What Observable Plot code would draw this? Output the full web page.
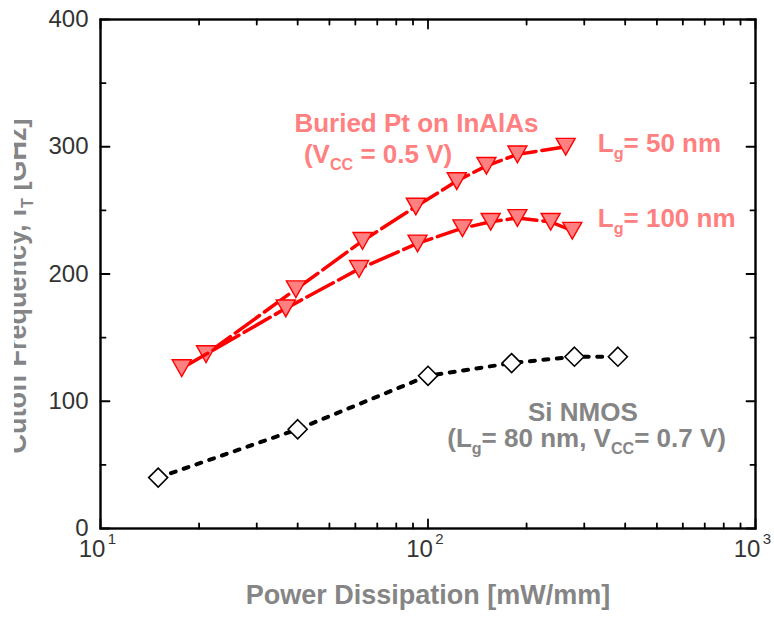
<!DOCTYPE html>
<html>
<head>
<meta charset="utf-8">
<script src="https://cdn.jsdelivr.net/npm/d3@7"></script>
<script src="https://cdn.jsdelivr.net/npm/@observablehq/plot@0.6"></script>
<style>
  html, body { margin: 0; padding: 0; background: #fff; }
  #chart { width: 774px; height: 624px; }
</style>
</head>
<body>
<div id="chart"></div>
<script>
// Cutoff frequency versus power dissipation: buried-Pt InAlAs HEMTs against Si NMOS.

// Buried Pt on InAlAs, Lg = 50 nm
const power50 = [21.0, 39.5, 63.1, 91.8, 122.4, 150.8, 187.5, 263.3];
const fT50    = [137, 188, 226, 253, 273, 285, 294, 300];

// Buried Pt on InAlAs, Lg = 100 nm
const power100 = [17.7, 36.8, 61.6, 92.9, 127.4, 155.4, 187.5, 236.9, 275.8];
const fT100    = [126, 173, 204, 224, 236, 241, 244, 241, 234];

// Si NMOS, Lg = 80 nm, Vcc = 0.7 V
const powerSi = [15, 40, 100, 180, 280, 380];
const fTSi    = [40, 78, 120, 130, 135, 135];

// Axis ticks and labels
const xMajor = [10, 100, 1000];
const xMinor = [20, 30, 40, 50, 60, 70, 80, 90, 200, 300, 400, 500, 600, 700, 800, 900];
const xTickBase = "10";
const xTickExp = ["1", "2", "3"];
const yMajor = [0, 100, 200, 300, 400];
const yMinor = [50, 150, 250, 350];
const yTickLabels = ["0", "100", "200", "300", "400"];

const xTitle = "Power Dissipation [mW/mm]";
const yTitle = "Cutoff Frequency, f_{T} [GHz]";

const zip = (xs, ys) => xs.map((x, i) => ({x, y: ys[i]}));
const s50 = zip(power50, fT50);
const s100 = zip(power100, fT100);
const sSi = zip(powerSi, fTSi);

const RED = "#ff0000";
const PINK = "#ff8080";
const GRAY = "#858585";
const INK = "#333333";

// Downward triangle centred on its bounding box
const triDown = {
  draw(ctx, size) {
    const r = Math.sqrt(size / Math.PI);
    const h = r * 0.88;
    ctx.moveTo(-r, -h);
    ctx.lineTo(r, -h);
    ctx.lineTo(0, h);
    ctx.closePath();
  }
};
// Square diamond (rotated square)
const diamond = {
  draw(ctx, size) {
    const r = Math.sqrt(size / Math.PI);
    ctx.moveTo(0, -r);
    ctx.lineTo(r, 0);
    ctx.lineTo(0, r);
    ctx.lineTo(-r, 0);
    ctx.closePath();
  }
};
// Straight tick drawn from the anchor along the vector direction
const tickShape = {
  draw(ctx, l) { ctx.moveTo(0, 0); ctx.lineTo(0, -l); }
};

// Inward ticks on all four sides of the frame
function ticks(values, side, len) {
  const horizontal = side === "top" || side === "bottom";
  const rotate = {bottom: 0, top: 180, left: 90, right: -90}[side];
  return Plot.vector(values, {
    [horizontal ? "x" : "y"]: d => d,
    frameAnchor: side,
    anchor: "start",
    rotate,
    length: len,
    shape: tickShape,
    stroke: "#000",
    strokeWidth: 1.8,
    fill: "none"
  });
}

const MAJ = 9, MIN = 5;

// Annotations placed in data coordinates
const noteFont = {fontSize: 26, fontWeight: "bold"};
const redCentered = [{text: "Buried Pt on InAlAs", x: 92.2, y: 318.5}];
const redLeft = [
  {text: "(V_{CC} = 0.5 V)", x: 41.8, y: 293.4},
  {text: "L_{g}= 50 nm", x: 330, y: 302.8},
  {text: "L_{g}= 100 nm", x: 330, y: 243.1}
];
const grayCentered = [
  {text: "Si NMOS", x: 297, y: 91.4},
  {text: "(L_{g}= 80 nm, V_{CC}= 0.7 V)", x: 305, y: 70.2}
];

const chart = Plot.plot({
  width: 774,
  height: 624,
  marginLeft: 100,
  marginRight: 19,
  marginTop: 19,
  marginBottom: 96,
  style: {fontFamily: "'Liberation Sans', Arial, sans-serif", background: "#fff"},
  x: {type: "log", domain: [10, 1000], axis: null},
  y: {domain: [0, 400], axis: null},
  marks: [
    // 50 nm series
    Plot.line(s50, {x: "x", y: "y", stroke: RED, strokeWidth: 3.5, strokeDasharray: "30,6"}),
    Plot.dot(s50, {x: "x", y: "y", symbol: triDown, r: 9.5, fill: PINK, stroke: RED, strokeWidth: 1.4}),
    // 100 nm series
    Plot.line(s100, {x: "x", y: "y", stroke: RED, strokeWidth: 3.5, strokeDasharray: "30,6"}),
    Plot.dot(s100, {x: "x", y: "y", symbol: triDown, r: 9.5, fill: PINK, stroke: RED, strokeWidth: 1.4}),
    // Si NMOS
    Plot.line(sSi, {x: "x", y: "y", stroke: "#000", strokeWidth: 4, strokeDasharray: "5,8.5"}),
    Plot.dot(sSi, {x: "x", y: "y", symbol: diamond, r: 9.5, fill: "#fff", stroke: "#000", strokeWidth: 1.6}),

    // Frame and ticks
    Plot.frame({stroke: "#000", strokeWidth: 2.4}),
    ticks(xMajor, "bottom", MAJ), ticks(xMinor, "bottom", MIN),
    ticks(xMajor, "top", MAJ), ticks(xMinor, "top", MIN),
    ticks(yMajor, "left", MAJ), ticks(yMinor, "left", MIN),
    ticks(yMajor, "right", MAJ), ticks(yMinor, "right", MIN),

    // Tick labels
    Plot.text(yMajor, {y: d => d, text: (d, i) => yTickLabels[i], frameAnchor: "left", textAnchor: "end", dx: -12, fontSize: 24, fill: INK}),
    Plot.text(xMajor, {x: d => d, text: () => xTickBase, frameAnchor: "bottom", dx: -8.5, dy: 28, fontSize: 24, fill: INK}),
    Plot.text(xMajor, {x: d => d, text: (d, i) => xTickExp[i], frameAnchor: "bottom", dx: 11.5, dy: 15, fontSize: 15, fill: INK}),

    // Axis titles
    Plot.text([xTitle], {text: d => d, frameAnchor: "bottom", dy: 75, fontSize: 27, fontWeight: "bold", fill: GRAY}),
    Plot.text([yTitle], {text: d => d, frameAnchor: "left", textAnchor: "middle", dx: -83, dy: 12, rotate: -90, fontSize: 27, fontWeight: "bold", fill: GRAY}),

    // Annotations
    Plot.text(redCentered, {x: "x", y: "y", text: "text", textAnchor: "middle", fill: PINK, ...noteFont}),
    Plot.text(redLeft, {x: "x", y: "y", text: "text", textAnchor: "start", fill: PINK, ...noteFont}),
    Plot.text(grayCentered, {x: "x", y: "y", text: "text", textAnchor: "middle", fill: GRAY, ...noteFont})
  ]
});

// Turn "_{...}" markup into subscript tspans
function subscripts(root, base) {
  d3.select(root).selectAll("text").each(function () {
    const el = d3.select(this);
    const src = el.text();
    if (!src.includes("_{")) return;
    el.text(null);
    const subSize = base * 0.62;
    const shift = base * 0.27;
    let lowered = false;
    for (const part of src.split(/(_\{[^}]*\})/)) {
      if (!part) continue;
      const m = part.match(/^_\{(.*)\}$/);
      if (m) {
        el.append("tspan").attr("dy", shift).attr("font-size", subSize).text(m[1]);
        lowered = true;
      } else {
        const t = el.append("tspan").text(part);
        if (lowered) { t.attr("dy", -shift); lowered = false; }
      }
    }
  });
}
subscripts(chart, 26);

// The vertical title is trimmed at the figure's left edge
const svg = d3.select(chart);
svg.append("defs").append("clipPath").attr("id", "ytitle-clip")
  .attr("clipPathUnits", "userSpaceOnUse")
  .append("rect").attr("x", 14).attr("y", 0).attr("width", 760).attr("height", 624);
const titleGroup = svg.selectAll("text")
  .filter(function () { return this.textContent.startsWith("Cutoff"); })
  .node().parentNode;
const wrap = svg.append("g").attr("clip-path", "url(#ytitle-clip)");
wrap.node().appendChild(titleGroup);

document.getElementById("chart").appendChild(chart);
</script>
</body>
</html>
